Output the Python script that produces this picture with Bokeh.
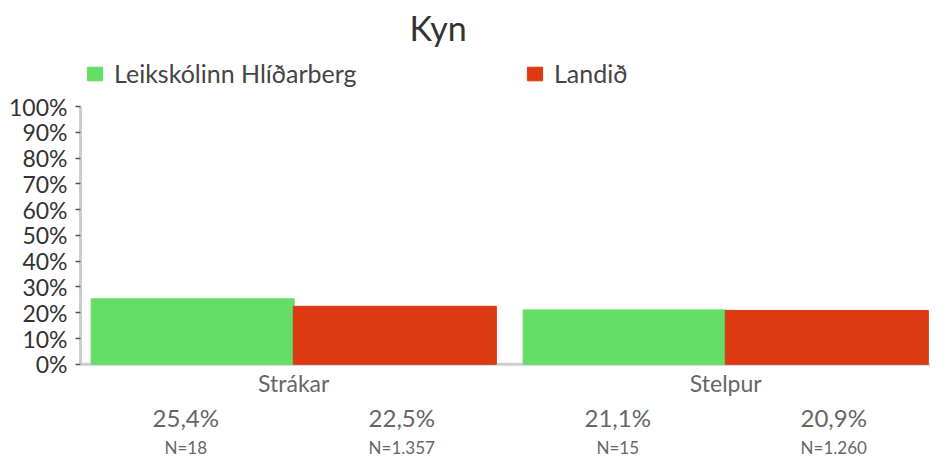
from bokeh.plotting import figure
from bokeh.models import (ColumnDataSource, Range1d, FixedTicker, Span,
                          Legend, LegendItem)
from bokeh.core.properties import value
from bokeh.embed import file_html
from bokeh.resources import INLINE

# ---- data ----
title_text = "Kyn"
categories = ["Strákar", "Stelpur"]
series_names = ["Leikskólinn Hlíðarberg", "Landið"]
school_values = [25.4, 21.1]
national_values = [22.5, 20.9]
school_n = ["18", "15"]
national_n = ["1.357", "1.260"]
y_ticks = [0, 10, 20, 30, 40, 50, 60, 70, 80, 90, 100]
y_tick_labels = ["0%", "10%", "20%", "30%", "40%", "50%", "60%", "70%", "80%", "90%", "100%"]
colors = ["#66DD66", "#DD3913"]

FONT = "Lato"
bar_offset = 0.234
bar_width = 0.47
label_offset = 0.25

x_idx = list(range(len(categories)))

p = figure(width=930, height=457, output_backend="svg", toolbar_location=None,
           x_axis_location=None,
           x_range=Range1d(-0.4937, 1.474), y_range=Range1d(-36.19, 121.4),
           min_border_left=80, min_border_right=0, min_border_top=44, min_border_bottom=0)
p.outline_line_color = None
p.grid.visible = False
p.background_fill_color = "white"
p.border_fill_color = "white"

# baseline (x axis line)
p.add_layout(Span(location=0, dimension="width", line_color="#cccccc",
                  line_width=3, level="underlay"))

src_a = ColumnDataSource(dict(x=[i - bar_offset for i in x_idx], top=school_values))
src_b = ColumnDataSource(dict(x=[i + bar_offset for i in x_idx], top=national_values))
r_a = p.vbar(x="x", top="top", bottom=0, width=bar_width, source=src_a,
             fill_color=colors[0], line_color=colors[0], line_width=1)
r_b = p.vbar(x="x", top="top", bottom=0, width=bar_width, source=src_b,
             fill_color=colors[1], line_color=colors[1], line_width=1)

# title
p.title.text = title_text
p.title.text_font = FONT
p.title.text_font_size = "34px"
p.title.text_font_style = "normal"
p.title.text_color = "#333333"
p.title.align = "left"
p.title.offset = 329
p.title.standoff = 8

# y axis
ya = p.yaxis[0]
ya.bounds = (0, 100)
ya.ticker = FixedTicker(ticks=y_ticks)
ya.major_label_overrides = {t: l for t, l in zip(y_ticks, y_tick_labels)}
ya.axis_line_color = "#cccccc"
ya.axis_line_width = 3
ya.major_tick_line_color = "#555555"
ya.major_tick_line_width = 1.5
ya.major_tick_out = 5
ya.major_tick_in = 0
ya.minor_tick_line_color = None
ya.major_label_standoff = 8
ya.major_label_text_font = FONT
ya.major_label_text_font_size = "23px"
ya.major_label_text_color = "#333333"

# category labels, percent labels and N labels beneath the baseline
p.text(x=x_idx, y=[0] * len(x_idx), text=categories, y_offset=19,
       text_align="center", text_baseline="middle", text_font=value(FONT),
       text_font_size="23px", text_color="#666666")

lab_x, pct_labels, n_labels = [], [], []
for i in x_idx:
    lab_x += [i - label_offset, i + label_offset]
    pct_labels += [f"{school_values[i]:.1f}".replace(".", ",") + "%",
                   f"{national_values[i]:.1f}".replace(".", ",") + "%"]
    n_labels += ["N=" + school_n[i], "N=" + national_n[i]]

p.text(x=lab_x, y=[0] * len(lab_x), text=pct_labels, y_offset=53,
       text_align="center", text_baseline="middle", text_font=value(FONT),
       text_font_size="24px", text_color="#666666")
p.text(x=lab_x, y=[0] * len(lab_x), text=n_labels, y_offset=83,
       text_align="center", text_baseline="middle", text_font=value(FONT),
       text_font_size="17px", text_color="#666666")

# legend
legend = Legend(items=[LegendItem(label=series_names[0], renderers=[r_a]),
                       LegendItem(label=series_names[1], renderers=[r_b])],
                orientation="horizontal", location=(5, 369),
                label_text_font=FONT, label_text_font_size="25px",
                label_text_color="#444444", glyph_width=19, glyph_height=17,
                label_standoff=10, label_width=400, spacing=11,
                padding=0, margin=0, border_line_color=None,
                background_fill_alpha=0)
p.add_layout(legend, "center")

open("out.html", "w").write(file_html(p, INLINE))
